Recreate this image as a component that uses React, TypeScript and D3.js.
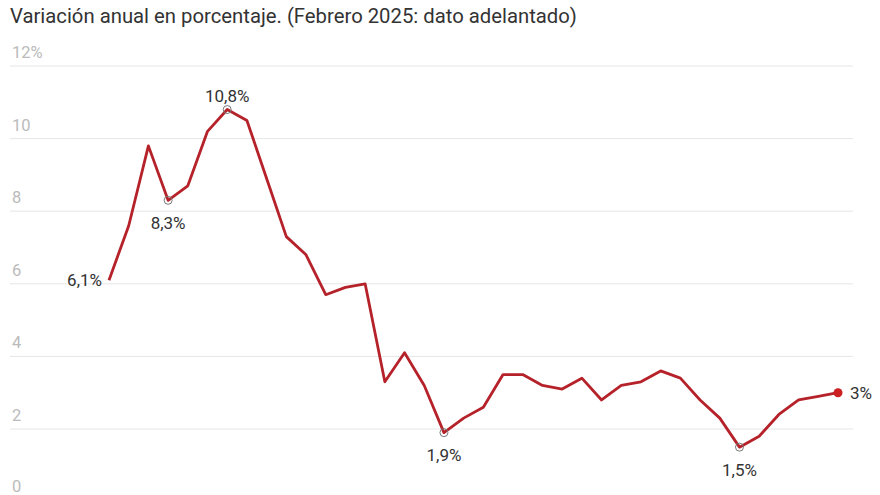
import React, { useRef, useEffect } from 'react';
import * as d3 from 'd3';

const months = [
  "2022-01", "2022-02", "2022-03", "2022-04", "2022-05", "2022-06",
  "2022-07", "2022-08", "2022-09", "2022-10", "2022-11", "2022-12",
  "2023-01", "2023-02", "2023-03", "2023-04", "2023-05", "2023-06",
  "2023-07", "2023-08", "2023-09", "2023-10", "2023-11", "2023-12",
  "2024-01", "2024-02", "2024-03", "2024-04", "2024-05", "2024-06",
  "2024-07", "2024-08", "2024-09", "2024-10", "2024-11", "2024-12",
  "2025-01", "2025-02",
];

const ipc = [
  6.1, 7.6, 9.8, 8.3, 8.7, 10.2,
  10.8, 10.5, 8.9, 7.3, 6.8, 5.7,
  5.9, 6.0, 3.3, 4.1, 3.2, 1.9,
  2.3, 2.6, 3.5, 3.5, 3.2, 3.1,
  3.4, 2.8, 3.2, 3.3, 3.6, 3.4,
  2.8, 2.3, 1.5, 1.8, 2.4, 2.8,
  2.9, 3.0,
];

const yTicks = [0, 2, 4, 6, 8, 10, 12];
const yTickLabels = ["0", "2", "4", "6", "8", "10", "12%"];

// highlighted points: index, label, placement
const annotations: { i: number; label: string; pos: "left" | "above" | "below" | "right" }[] = [
  { i: 0, label: "6,1%", pos: "left" },
  { i: 3, label: "8,3%", pos: "below" },
  { i: 6, label: "10,8%", pos: "above" },
  { i: 17, label: "1,9%", pos: "below" },
  { i: 32, label: "1,5%", pos: "below" },
  { i: 37, label: "3%", pos: "right" },
];

const title = "Variación anual en porcentaje. (Febrero 2025: dato adelantado)";

const W = 880;
const H = 495;

export default function App() {
  const svgRef = useRef<SVGSVGElement>(null);

  useEffect(() => {
    if (!svgRef.current) return;
    const svg = d3.select(svgRef.current);
    svg.selectAll("*").remove();

    const font = "Roboto, 'Noto Sans', sans-serif";

    const x = d3.scaleLinear().domain([0, months.length - 1]).range([109, 838]);
    const y = d3.scaleLinear().domain([0, 12]).range([501.6, 66]);

    svg.append("rect").attr("width", W).attr("height", H).attr("fill", "#fff");

    // title
    svg.append("text")
      .attr("x", 10).attr("y", 23)
      .style("font-family", font)
      .style("font-size", "20.3px")
      .style("fill", "#333")
      .text(title);

    // grid + y labels
    const grid = svg.append("g");
    yTicks.forEach((t, k) => {
      grid.append("line")
        .attr("x1", 10).attr("x2", 853)
        .attr("y1", y(t)).attr("y2", y(t))
        .attr("stroke", "#e6e6e6").attr("stroke-width", 1);
      grid.append("text")
        .attr("x", 12).attr("y", Math.min(y(t) - 8, 492))
        .style("font-family", font)
        .style("font-size", "16.5px")
        .style("fill", "#bbbbbb")
        .text(yTickLabels[k]);
    });

    const line = d3.line<number>()
      .x((_, i) => x(i))
      .y((d) => y(d));

    svg.append("path")
      .datum(ipc)
      .attr("fill", "none")
      .attr("stroke", "#b5222a")
      .attr("stroke-width", 2.8)
      .attr("stroke-linejoin", "round")
      .attr("d", line);

    annotations.forEach((a) => {
      const cx = x(a.i);
      const cy = y(ipc[a.i]);
      if (a.i === ipc.length - 1) {
        svg.append("circle").attr("cx", cx).attr("cy", cy).attr("r", 4.5).attr("fill", "#cc1f22");
      } else if (a.i !== 0) {
        svg.append("circle").attr("cx", cx).attr("cy", cy).attr("r", 4)
          .attr("fill", "none").attr("stroke", "#777").attr("stroke-width", 1);
      }
      let tx = cx, ty = cy, anchor = "middle";
      if (a.pos === "left") { tx = cx - 7; anchor = "end"; }
      if (a.pos === "right") { tx = cx + 12; anchor = "start"; }
      if (a.pos === "above") { ty = cy - 14; }
      if (a.pos === "below") { ty = cy + 22.5; }
      svg.append("text")
        .attr("x", tx).attr("y", ty)
        .attr("dy", "0.35em")
        .attr("text-anchor", anchor)
        .style("font-family", font)
        .style("font-size", "17px")
        .style("fill", "#333")
        .text(a.label);
    });
  }, []);

  return (
    <div style={{ position: "absolute", left: 0, top: 0 }}>
      <svg ref={svgRef} width={W} height={H} style={{ display: "block" }}></svg>
    </div>
  );
}
